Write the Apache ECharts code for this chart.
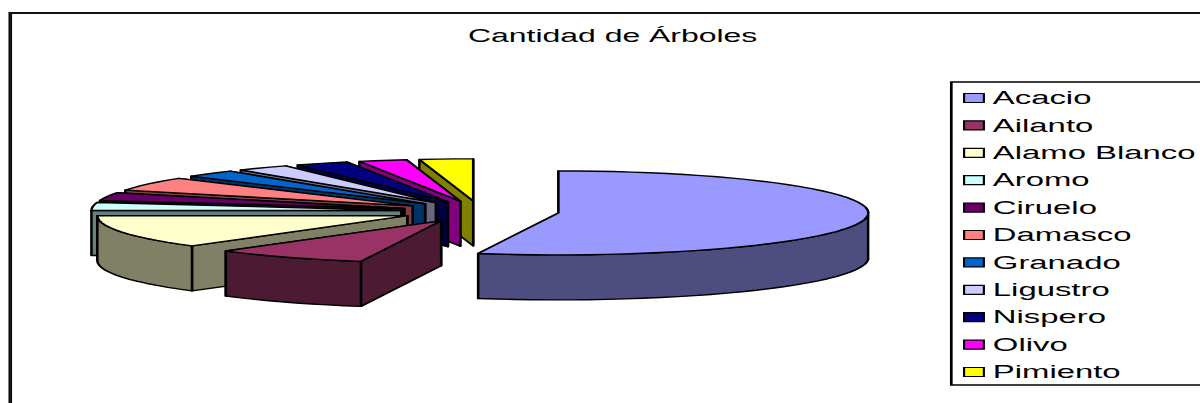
<!DOCTYPE html>
<html>
<head>
<meta charset="utf-8">
<title>Cantidad de Árboles</title>
<script src="https://cdn.jsdelivr.net/npm/echarts@6/dist/echarts.min.js"></script>
<style>
	html, body { margin: 0; padding: 0; background: #fff; overflow: hidden; }
	/* the reference is a narrow chart stretched sideways, text included */
	#chart { width: 667px; height: 403px; transform: scaleX(1.8); transform-origin: 0 0; }
</style>
</head>
<body>
<div id="chart"></div>
<script>
var titulo = 'Cantidad de Árboles';
var especies = ['Acacio', 'Ailanto', 'Alamo Blanco', 'Aromo', 'Ciruelo', 'Damasco', 'Granado', 'Ligustro', 'Nispero', 'Olivo', 'Pimiento'];
var cantidades = [195, 29, 46, 11, 11, 19, 10, 10, 10, 9, 10];
var colores = ['#9999ff', '#993366', '#ffffcc', '#ccffff', '#660066', '#ff8080', '#0066cc', '#ccccff', '#000080', '#ff00ff', '#ffff00'];
var coloresLado = ['#4d4d80', '#4d1a33', '#808066', '#668080', '#330033', '#804040', '#003366', '#666680', '#000040', '#800080', '#808000'];

var total = cantidades.reduce(function(a, b) { return a + b; }, 0);
var cx = 266.7, cy = 211.5, rx = 172.2, ry = 42, alto = 45, separacion = 0.255;

function punto(centro, ang, bajar) {
	return [centro[0] + rx * Math.sin(ang), centro[1] - ry * Math.cos(ang) + (bajar || 0)];
}

function porcion(i) {
	return function(params, api) {
		var previo = 0;
		for (var k = 0; k < i; k++) previo += cantidades[k];
		var a0 = previo / total * Math.PI * 2;
		var a1 = (previo + api.value(0)) / total * Math.PI * 2;
		var medio = (a0 + a1) / 2;
		var centro = [cx + separacion * rx * Math.sin(medio), cy - separacion * ry * Math.cos(medio)];
		var pasos = Math.max(2, Math.ceil((a1 - a0) / 0.06));
		var arco = [];
		for (var p = 0; p <= pasos; p++) {
			arco.push(a0 + (a1 - a0) * p / pasos);
		}
		var trazo = {stroke: '#000', lineWidth: 1.4, lineJoin: 'round'};
		var lado = echarts.util.extend({fill: coloresLado[i]}, trazo);
		var hijos = [];

		// radial faces first, the rim and the top cover what is hidden
		[a1, a0].forEach(function(a) {
			hijos.push({type: 'polygon', shape: {points: [
				centro, punto(centro, a), punto(centro, a, alto), [centro[0], centro[1] + alto]
			]}, style: lado});
		});

		var borde = arco.filter(function(a) {
			return a >= Math.PI / 2 && a <= Math.PI * 1.5;
		});
		if (borde.length > 1) {
			var arriba = borde.map(function(a) { return punto(centro, a); });
			var abajo = borde.map(function(a) { return punto(centro, a, alto); }).reverse();
			hijos.push({type: 'polygon', shape: {points: arriba.concat(abajo)}, style: lado});
		}

		var cara = [centro].concat(arco.map(function(a) { return punto(centro, a); }));
		hijos.push({type: 'polygon', shape: {points: cara}, style: echarts.util.extend({fill: colores[i]}, trazo)});
		return {type: 'group', children: hijos};
	};
}

// painted from the back slice to the front one
var series = [];
for (var i = especies.length - 1; i >= 0; i--) {
	series.push({
		type: 'custom',
		name: especies[i],
		coordinateSystem: 'none',
		silent: true,
		animation: false,
		itemStyle: {color: colores[i]},
		data: [[cantidades[i]]],
		renderItem: porcion(i)
	});
}

var myChart = echarts.init(document.getElementById('chart'), null, {renderer: 'svg', width: 667, height: 403});
myChart.setOption({
	backgroundColor: '#fff',
	animation: false,
	title: {
		text: titulo,
		left: 260,
		top: 27,
		padding: 0,
		textStyle: {fontFamily: 'Liberation Sans', fontSize: 17.75, fontWeight: 'normal', color: '#000'}
	},
	legend: {
		data: especies,
		orient: 'vertical',
		left: 528.5,
		top: 82,
		padding: [7, 30, 4, 6.5],
		itemWidth: 11,
		itemHeight: 9,
		itemGap: 9.4,
		selectedMode: false,
		borderColor: '#000',
		borderWidth: 1.5,
		icon: 'rect',
		itemStyle: {borderColor: '#000', borderWidth: 1.2},
		textStyle: {fontFamily: 'Liberation Sans', fontSize: 18.25, color: '#000', padding: [0, 0, 0, 0]}
	},
	graphic: [{
		type: 'rect',
		silent: true,
		shape: {x: 5.7, y: 13, width: 1000, height: 1000},
		style: {fill: null, stroke: '#111', lineWidth: 2}
	}],
	series: series
});
</script>
</body>
</html>
